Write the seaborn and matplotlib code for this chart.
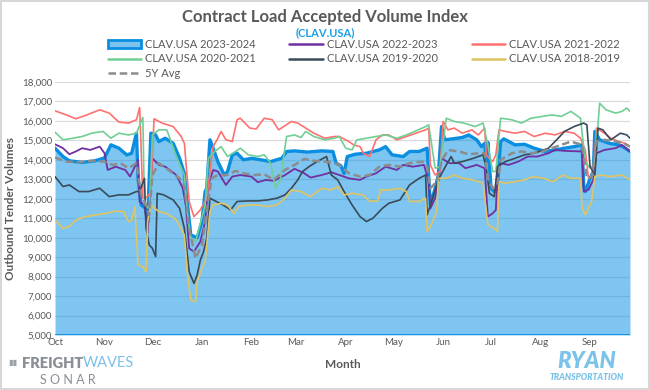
import numpy as np
import pandas as pd
import seaborn as sns
import matplotlib.pyplot as plt
from matplotlib.patches import Rectangle
from matplotlib.ticker import FuncFormatter

# days since Oct 1
days_2324 = [0, 5, 9, 17, 25, 31, 35, 40, 45, 48, 51, 52, 54, 57, 58, 60, 63, 65, 69, 74, 78, 81, 83, 85, 89,
             92, 94, 95, 97, 99, 102, 106, 108, 111, 114, 118, 123, 129, 135, 142, 145, 150, 158, 167, 174, 176,
             179, 181, 183, 188, 195, 199, 203, 207, 211, 218, 222, 228, 233, 234, 235, 238, 240, 242, 244, 249,
             255, 259, 264, 267, 269, 270, 271, 273, 275, 277, 278, 279, 281, 288, 294, 300, 307, 313, 319, 325,
             330, 331, 332, 335, 337, 338, 341, 347, 353, 357, 360]
clav_2324 = [14600, 14170, 13950, 13870, 13950, 14100, 14770, 14600, 14250, 14340, 15370, 13050, 11680, 11500,
             10800, 15370, 15280, 14940, 15110, 14850, 14080, 13300, 11680, 10140, 10000, 10830, 12370, 12540,
             15030, 14600, 13900, 13220, 13400, 14260, 14340, 14000, 14080, 14000, 13910, 14080, 14430, 14460,
             14400, 14460, 14430, 13830, 13700, 13300, 14170, 14290, 14340, 14430, 14510, 14680, 14260, 14170,
             14430, 14430, 14600, 13140, 11680, 12540, 13220, 15710, 15030, 15080, 15150, 15280, 15030, 14680,
             14850, 13910, 14900, 12540, 12370, 12540, 13830, 14940, 15080, 14770, 14800, 14600, 14430, 14510,
             14600, 14680, 14770, 12710, 12370, 13050, 13400, 15460, 15030, 14850, 14770, 14600, 14430]

days_2223 = [0, 5, 9, 13, 17, 22, 28, 31, 33, 38, 44, 47, 52, 53, 56, 58, 61, 65, 69, 76, 80, 82, 84, 87, 91,
             94, 96, 99, 102, 107, 111, 116, 123, 127, 132, 137, 144, 150, 156, 160, 167, 173, 178, 184, 191,
             195, 201, 207, 214, 218, 224, 231, 234, 235, 238, 240, 242, 247, 253, 257, 264, 269, 271, 274, 276,
             277, 279, 284, 290, 296, 302, 309, 313, 319, 330, 331, 334, 337, 339, 344, 351, 355, 360]
clav_2223 = [14800, 14600, 14290, 14430, 14600, 14510, 14680, 14340, 13480, 13650, 13480, 13140, 14000, 11850,
             11680, 10230, 14080, 13740, 13650, 13220, 12540, 11600, 9450, 9280, 9800, 10830, 12710, 13480,
             13400, 12710, 13140, 13220, 13140, 12850, 12970, 12920, 13220, 13540, 13310, 13090, 13220, 13360,
             13220, 13050, 12970, 13140, 13310, 13650, 13480, 13740, 13650, 13740, 12880, 11500, 12030, 12970,
             14080, 13830, 13830, 13570, 13740, 13570, 11080, 11250, 11420, 13220, 13830, 13740, 13910, 14170,
             14170, 14340, 14510, 14460, 14430, 12370, 12460, 12970, 14340, 14510, 14600, 14770, 14430]

days_2122 = [0, 7, 13, 19, 28, 34, 40, 46, 51, 53, 55, 58, 60, 62, 67, 74, 79, 81, 84, 87, 91, 95, 99, 102, 104,
             107, 111, 114, 116, 122, 126, 131, 136, 140, 148, 152, 157, 162, 169, 175, 178, 184, 187, 191, 193,
             197, 201, 205, 209, 214, 220, 226, 232, 234, 235, 238, 241, 243, 246, 250, 255, 261, 265, 269, 270,
             272, 274, 276, 278, 282, 288, 294, 300, 307, 313, 319, 325, 329, 332, 334, 337, 339, 344, 348, 353,
             357, 360]
clav_2122 = [16520, 16310, 16110, 16280, 16570, 16400, 15940, 15890, 16060, 16690, 12030, 12110, 12370, 16110,
             15890, 15710, 15200, 14850, 11850, 11080, 11430, 12030, 14680, 15110, 15460, 15030, 14940, 16060,
             16140, 15630, 15590, 16140, 16060, 15540, 15970, 15890, 15630, 15370, 15110, 15200, 15200, 14940,
             14770, 14680, 14340, 14170, 15030, 15280, 15280, 15030, 15200, 15370, 15540, 15630, 13740, 13220,
             13400, 15970, 15540, 15630, 15370, 15540, 15280, 15630, 14260, 14080, 13910, 14260, 15540, 15460,
             15370, 15460, 15200, 15370, 15280, 15460, 15370, 15110, 14510, 13050, 13220, 15630, 15370, 15110,
             14940, 14850, 14680]

days_2021 = [0, 5, 11, 17, 23, 30, 35, 40, 46, 51, 55, 56, 59, 61, 65, 70, 76, 81, 83, 85, 88, 91, 94, 96, 100,
             104, 108, 113, 116, 121, 127, 131, 135, 138, 141, 145, 150, 154, 157, 162, 169, 175, 178, 182, 186,
             189, 195, 201, 207, 214, 220, 226, 232, 234, 238, 241, 245, 250, 256, 263, 268, 271, 274, 276, 279,
             286, 292, 298, 305, 311, 317, 323, 329, 332, 335, 338, 341, 345, 351, 355, 358, 360]
clav_2021 = [15420, 15030, 15110, 15200, 15370, 15460, 15110, 15370, 15280, 15370, 16180, 11680, 11510, 15280,
             15540, 15540, 14170, 13220, 11170, 9970, 9800, 10740, 11680, 14080, 14430, 14680, 14170, 14430,
             14600, 14260, 14170, 14260, 13830, 12540, 12970, 15200, 15280, 15150, 15460, 15200, 15030, 15110,
             15200, 14600, 14510, 15030, 15110, 15200, 15280, 15110, 15280, 15490, 15710, 15800, 13570, 13650,
             16140, 15970, 15890, 15710, 15890, 14770, 13400, 13400, 16140, 16060, 15890, 16140, 16230, 16310,
             16230, 16490, 16140, 13910, 13570, 13740, 16910, 16570, 16400, 16490, 16660, 16490]

days_1920 = [0, 5, 9, 15, 21, 28, 34, 40, 46, 51, 53, 56, 57, 59, 61, 63, 64, 68, 74, 78, 81, 84, 87, 89, 91,
             93, 95, 97, 101, 105, 110, 114, 121, 127, 133, 139, 144, 148, 152, 155, 159, 164, 170, 173, 177,
             181, 186, 191, 195, 199, 205, 209, 216, 222, 228, 232, 233, 235, 238, 241, 245, 248, 250, 255, 262,
             268, 270, 272, 275, 277, 282, 288, 294, 300, 309, 315, 319, 325, 331, 333, 335, 338, 340, 343, 348,
             354, 358, 360]
clav_1920 = [13140, 12630, 12710, 12370, 12370, 12540, 12110, 12200, 12200, 12370, 12370, 13050, 10480, 9630,
             9450, 9030, 12280, 12200, 11940, 11510, 10480, 8250, 7650, 8080, 8850, 9280, 9970, 12030, 11860,
             11690, 11430, 11860, 11890, 11890, 11940, 12030, 12200, 12540, 12970, 13400, 13650, 13910, 14170,
             13220, 12970, 12370, 11680, 11080, 10830, 11000, 11510, 11770, 11940, 12710, 13050, 13220, 11170,
             11680, 12450, 13140, 13740, 14170, 13830, 13910, 14080, 14260, 13570, 12280, 12110, 13650, 13910,
             14080, 14260, 14340, 14600, 15110, 15460, 15710, 15890, 15800, 13650, 13220, 15630, 15540, 15030,
             15370, 15280, 15110]

days_1819 = [0, 5, 9, 13, 19, 25, 32, 38, 43, 46, 48, 50, 52, 55, 57, 58, 60, 65, 70, 76, 81, 83, 85, 88, 89,
             92, 94, 97, 99, 104, 108, 112, 115, 121, 127, 133, 139, 144, 148, 154, 160, 167, 173, 177, 181, 186,
             193, 197, 202, 204, 209, 216, 220, 222, 228, 232, 233, 235, 239, 240, 245, 250, 255, 262, 268, 271,
             273, 275, 277, 278, 282, 288, 294, 299, 306, 312, 318, 323, 329, 330, 332, 336, 338, 342, 348, 355,
             360]
clav_1819 = [10910, 10480, 10570, 10910, 11080, 11170, 11250, 11370, 11340, 10830, 10910, 11600, 8600, 8510,
             8250, 10830, 11680, 11340, 11250, 10910, 10140, 8080, 6800, 6710, 7740, 8430, 8770, 11340, 11680,
             11770, 11680, 11250, 11600, 11680, 11680, 11600, 11680, 12030, 12450, 12370, 12110, 12540, 12450,
             12630, 12200, 12280, 12200, 11860, 11890, 12450, 12450, 12540, 12370, 11860, 11860, 12030, 10310,
             10570, 11340, 13050, 13050, 13220, 13050, 12970, 12800, 10660, 10570, 10480, 10310, 12880, 12800,
             12880, 12970, 13140, 13050, 12880, 13220, 13050, 13050, 11510, 11170, 11860, 13140, 13220, 13140,
             13220, 12970]

days_avg = [0, 7, 15, 23, 31, 36, 41, 46, 51, 54, 57, 59, 61, 65, 71, 78, 81, 84, 88, 92, 95, 98, 102, 108, 113,
            118, 125, 131, 137, 144, 150, 156, 162, 169, 175, 178, 184, 191, 197, 203, 209, 216, 222, 230, 233,
            235, 239, 242, 246, 253, 259, 266, 269, 271, 274, 277, 279, 286, 292, 298, 305, 311, 317, 323, 330,
            333, 336, 339, 344, 351, 356, 360]
clav_avg = [14120, 13910, 13880, 13950, 13910, 13740, 13830, 13570, 13830, 12200, 11680, 11170, 13220, 13830,
            13480, 13050, 12630, 10480, 8940, 9630, 11340, 13050, 13220, 13220, 13430, 13310, 13220, 13260, 12970,
            13480, 13740, 14050, 13950, 13910, 13830, 13740, 13310, 13140, 13220, 13650, 13740, 13650, 13830,
            13910, 13650, 12540, 12880, 13910, 14510, 14430, 14290, 14340, 14340, 13050, 12540, 12710, 14000,
            14340, 14430, 14340, 14430, 14600, 14770, 14940, 14770, 13050, 13140, 14940, 15030, 14940, 14850,
            14680]

month_days = [0, 31, 61, 92, 123, 151, 182, 212, 243, 273, 304, 335]
month_labels = ["Oct", "Nov", "Dec", "Jan", "Feb", "Mar", "Apr", "May", "Jun", "Jul", "Aug", "Sep"]

sns.set_style("white")
plt.rcParams['font.family'] = ['Lato', 'DejaVu Sans']
txt = "#595959"

fig = plt.figure(figsize=(6.5, 3.9), dpi=100)
ax = fig.add_axes([55 / 650, 1 - 335 / 390, 575 / 650, 253 / 390])

# area for current season
ax.fill_between(days_2324, 5000, clav_2324, color="#1496e6", alpha=0.55, lw=0, zorder=1)
sns.lineplot(x=days_2324, y=clav_2324, ax=ax, color="#0a8ee2", lw=2.4, estimator=None, zorder=3)
ax.axhline(5000, color="#0a8ee2", lw=2, zorder=3)

others = [
    (days_2223, clav_2223, "#7030a0", 1.3),
    (days_2122, clav_2122, "#ff7070", 1.2),
    (days_2021, clav_2021, "#6fcf94", 1.2),
    (days_1920, clav_1920, "#3a4a58", 1.2),
    (days_1819, clav_1819, "#e0c464", 1.2),
]
for d, v, c, w in others:
    sns.lineplot(x=d, y=v, ax=ax, color=c, lw=w, estimator=None, zorder=4)
sns.lineplot(x=days_avg, y=clav_avg, ax=ax, color="#8c8c8c", lw=1.8, estimator=None, zorder=4,
             linestyle=(0, (3, 1.5)))

ax.set_xlim(0, 360)
ax.set_ylim(5000, 18000)
ax.set_yticks(range(5000, 18001, 1000))
ax.yaxis.set_major_formatter(FuncFormatter(lambda v, p: f"{int(v):,}"))
ax.set_xticks(month_days)
ax.set_xticklabels(month_labels)
ax.tick_params(axis="both", labelsize=7, colors=txt, length=0, pad=2)
ax.grid(axis="y", color="#d9d9d9", lw=0.8, zorder=0)
ax.set_axisbelow(True)
for s in ax.spines.values():
    s.set_visible(False)
ax.set_xlabel("Month", fontsize=8.5, fontweight="bold", color=txt, labelpad=9)
ax.set_ylabel("Outbound Tender Volumes", fontsize=8.5, fontweight="bold", color=txt, labelpad=4)

fig.text(0.5, 1 - 17 / 390, "Contract Load Accepted Volume Index", ha="center", va="center",
         fontsize=12, fontweight="bold", color=txt)
fig.text(0.5, 1 - 33 / 390, "(CLAV.USA)", ha="center", va="center", fontsize=8, fontweight="bold",
         color="#1a9fe8")

# legend
handles = [
    Rectangle((0, 0), 1, 1, facecolor="#7cc3f0", edgecolor="#0a8ee2", lw=2),
    plt.Line2D([], [], color="#6fcf94", lw=1.8),
    plt.Line2D([], [], color="#8c8c8c", lw=1.8, linestyle=(0, (3, 1.5))),
    plt.Line2D([], [], color="#7030a0", lw=1.8),
    plt.Line2D([], [], color="#3a4a58", lw=1.8),
    plt.Line2D([], [], color="#ff7070", lw=1.8),
    plt.Line2D([], [], color="#e0c464", lw=1.8),
]
labels = ["CLAV.USA 2023-2024", "CLAV.USA 2020-2021", "5Y Avg", "CLAV.USA 2022-2023",
          "CLAV.USA 2019-2020", "CLAV.USA 2021-2022", "CLAV.USA 2018-2019"]
leg = fig.legend(handles, labels, ncol=3, loc="center", bbox_to_anchor=(0.56, 1 - 59 / 390),
                 frameon=False, fontsize=8, handlelength=3.0, handletextpad=0.4, columnspacing=3.0,
                 labelspacing=0.3)
for t in leg.get_texts():
    t.set_color(txt)

# logos as text
fig.text(8 / 650, 1 - 363 / 390, "▮▮", fontsize=6, color="#9aa0a6", va="center")
fig.text(22 / 650, 1 - 363 / 390, "FREIGHT", fontsize=10.5, fontweight="heavy", color="#8a8f96", va="center")
fig.text(83 / 650, 1 - 363 / 390, "WAVES", fontsize=10.5, color="#7cc0ea", va="center")
fig.text(68 / 650, 1 - 380 / 390, "S O N A R", fontsize=9, color="#8a8f96", va="center", ha="center")
fig.text(587 / 650, 1 - 361 / 390, "RYAN", fontsize=16, fontweight="heavy", style="italic",
         color="#7cc3ea", ha="center", va="center")
fig.text(587 / 650, 1 - 378 / 390, "TRANSPORTATION", fontsize=6.2, fontweight="heavy", style="italic",
         color="#7cc3ea", ha="center", va="center")

fig.patches.append(Rectangle((0.002, 0.003), 0.996, 0.994, transform=fig.transFigure, fill=False,
                             edgecolor="#d0d0d0", lw=1.2))

fig.savefig("out.png", dpi=100)
